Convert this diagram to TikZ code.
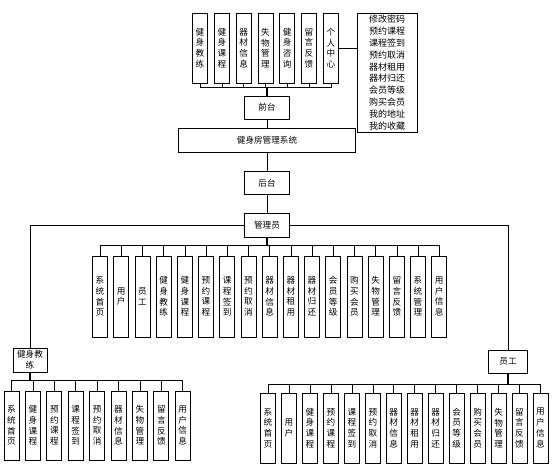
\documentclass[tikz,border=0pt]{standalone}
\usepackage{fontspec}
\newfontfamily\cjk{Noto Sans CJK SC}
\begin{document}
\begin{tikzpicture}[x=1pt,y=-1pt,
  box/.style={draw, fill=white, line width=0.8pt, inner sep=0pt, align=center,
    font=\cjk\fontsize{8.6}{10.7}\selectfont},
  vbox/.style={box, minimum width=15pt},
  hbox/.style={box, minimum width=45pt, minimum height=23pt},
  link/.style={line width=0.6pt},
  stem/.style={line width=1.5pt}]
\useasboundingbox (0,0) rectangle (557,471);

% front end
\foreach \t [count=\i] in {{健\\身\\教\\练},{健\\身\\课\\程},{器\\材\\信\\息},{失\\物\\管\\理},{健\\身\\咨\\询},{留\\言\\反\\馈},{个\\人\\中\\心}}
  \node[vbox, minimum height=70pt] (qt\i) at ({200+21.8*(\i-1)},48) {\t};

\node[box, minimum width=60pt, minimum height=119pt, font=\cjk\fontsize{9}{11.9}\selectfont] (grzx) at (387,72.5)
  {修改密码\\预约课程\\课程签到\\预约取消\\器材租用\\器材归还\\会员等级\\购买会员\\我的地址\\我的收藏};
\draw[link] (qt7.east) -- (qt7.east -| grzx.west);

\node[hbox] (qiantai) at (267,107.5) {前台};
\coordinate (qtbus) at (267,87);
\draw[link] (qt1.south) -- (qt1.south |- qtbus) -- (qt7.south |- qtbus) -- (qt7.south);
\foreach \i in {2,...,6}
  \draw[link] (qt\i.south) -- (qt\i.south |- qtbus);
\draw[stem] (qtbus) -- (qiantai.north);

% main column
\node[box, minimum width=177pt, minimum height=24pt] (xitong) at (267,140) {健身房管理系统};
\node[hbox] (houtai) at (267,183) {后台};
\node[hbox, minimum height=24pt] (guanli) at (267,225) {管理员};
\draw[link] (qiantai) -- (xitong);
\draw[link] (xitong) -- (houtai);
\draw[link] (houtai) -- (guanli);

% admin
\foreach \t [count=\i] in {{系\\统\\首\\页},{用\\户},{员\\工},{健\\身\\教\\练},{健\\身\\课\\程},{预\\约\\课\\程},{课\\程\\签\\到},{预\\约\\取\\消},{器\\材\\信\\息},{器\\材\\租\\用},{器\\材\\归\\还},{会\\员\\等\\级},{购\\买\\会\\员},{失\\物\\管\\理},{留\\言\\反\\馈},{系\\统\\管\\理},{用\\户\\信\\息}}
  \node[vbox, minimum height=81pt] (gl\i) at ({100+21.2*(\i-1)},296.5) {\t};
\coordinate (glbus) at (267,245);
\draw[stem] (guanli) -- (glbus);
\draw[link] (gl1.north) -- (gl1.north |- glbus) -- (gl17.north |- glbus) -- (gl17.north);
\foreach \i in {2,...,16}
  \draw[link] (gl\i.north) -- (gl\i.north |- glbus);

% coach
\node[box, minimum width=34pt, minimum height=24pt] (jiaolian) at (30,360) {健身教\\练};
\draw[link] (guanli.west) -| (jiaolian.north);
\foreach \t [count=\i] in {{系\\统\\首\\页},{健\\身\\课\\程},{预\\约\\课\\程},{课\\程\\签\\到},{预\\约\\取\\消},{器\\材\\信\\息},{失\\物\\管\\理},{留\\言\\反\\馈},{用\\户\\信\\息}}
  \node[vbox, minimum height=69pt] (jl\i) at ({11.5+21.4*(\i-1)},425.5) {\t};
\coordinate (jlbus) at (30,380);
\draw[stem] (jiaolian) -- (jlbus);
\draw[link] (jl1.north) -- (jl1.north |- jlbus) -- (jl9.north |- jlbus) -- (jl9.north);
\foreach \i in {2,...,8}
  \draw[link] (jl\i.north) -- (jl\i.north |- jlbus);

% staff
\node[box, minimum width=39pt, minimum height=23pt] (yuangong) at (508,361.5) {员工};
\draw[link] (guanli.east) -| (yuangong.north);
\foreach \t [count=\i] in {{系\\统\\首\\页},{用\\户},{健\\身\\课\\程},{预\\约\\课\\程},{课\\程\\签\\到},{预\\约\\取\\消},{器\\材\\信\\息},{器\\材\\租\\用},{器\\材\\归\\还},{会\\员\\等\\级},{购\\买\\会\\员},{失\\物\\管\\理},{留\\言\\反\\馈},{用\\户\\信\\息}}
  \node[vbox, minimum height=70pt] (yg\i) at ({268+20.96*(\i-1)},428) {\t};
\coordinate (ygbus) at (508,384);
\draw[stem] (yuangong) -- (ygbus);
\draw[link] (yg1.north) -- (yg1.north |- ygbus) -- (yg14.north |- ygbus) -- (yg14.north);
\foreach \i in {2,...,13}
  \draw[link] (yg\i.north) -- (yg\i.north |- ygbus);
\end{tikzpicture}
\end{document}
